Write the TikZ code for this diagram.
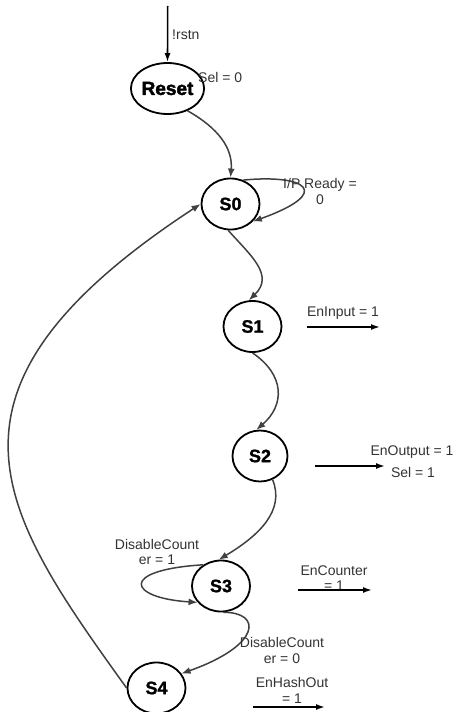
\documentclass[tikz,border=0pt]{standalone}
\usepackage{fontspec}
\setmainfont{Liberation Sans}
\newfontfamily\statefont[FakeBold=1.2]{Liberation Sans Bold}
\newfontfamily\resetfont[FakeBold=2.2]{Liberation Sans Bold}
\usetikzlibrary{shapes.geometric,arrows.meta}
\begin{document}
\begin{tikzpicture}[x=1pt,y=-1pt,
  state/.style={ellipse,draw=black,line width=1.8pt,minimum width=58pt,minimum height=51pt,inner sep=0pt,font=\fontsize{18}{18}\statefont},
  trans/.style={draw=black!75,line width=1.5pt,-{Latex[length=9pt,width=7pt]}},
  outarrow/.style={draw=black,line width=1.6pt,-{Latex[length=9pt,width=6pt]}},
  lbl/.style={font=\fontsize{14}{15.5}\selectfont,text=black!80,align=center,inner sep=0pt}]
\useasboundingbox (0,0) rectangle (456,712);

% states
\node[state,font=\fontsize{19}{19}\resetfont] (reset) at (167.5,88.5) {Reset};
\node[state] (s0) at (230.5,204) {S0};
\node[state] (s1) at (252.5,326.5) {S1};
\node[state,minimum width=55pt] (s2) at (260,456) {S2};
\node[state] (s3) at (221,586) {S3};
\node[state] (s4) at (156.5,688) {S4};

% reset input
\coordinate (rstin) at (167.7,6);
\draw[draw=black,line width=1.6pt,-{Latex[length=9pt,width=6pt]}] (rstin) -- (reset.north);
\node[lbl,anchor=west] (rstn) at (172,34.5) {!rstn};
\node[lbl,anchor=west] (sel0) at (198,77.5) {Sel = 0};

% transitions
\draw[trans] (reset.-48) .. controls (218,128) and (233,148) .. (s0.north);
\draw[trans] (s0.62) .. controls (305,174) and (335,192) .. (s0.-38);
\node[lbl] (ipready) at (320,191.5) {I/P Ready =\\0};
\draw[trans] (s0.-95) .. controls (250,255) and (275,275) .. (s1.98);
\draw[trans] (s1.-90) .. controls (285,375) and (285,405) .. (s2.98);
\draw[trans] (s2.-62) .. controls (285,510) and (260,535) .. (s3.95);
\draw[trans] (s3.130) .. controls (118,570) and (128,598) .. (s3.-145);
\node[lbl] (dc1) at (157,552) {DisableCount\\er = 1};
\draw[trans] (s3.-85) .. controls (262,612) and (262,645) .. (s4.30);
\node[lbl] (dc0) at (282,650.5) {DisableCount\\er = 0};
\draw[trans] (s4.west) .. controls (-0.3,511.3) and (-84.6,390.6) .. (s0.west);

% outputs
\node[lbl] (eninput) at (343,313) {EnInput = 1};
\coordinate (o1a) at (307,327); \coordinate (o1b) at (380,327);
\draw[outarrow] (o1a) -- (o1b);

\node[lbl] (enoutput) at (412,452) {EnOutput = 1};
\node[lbl] (sel1) at (413,472) {Sel = 1};
\coordinate (o2a) at (315,466); \coordinate (o2b) at (385,466);
\draw[outarrow] (o2a) -- (o2b);

\node[lbl] (encounter) at (334,578) {EnCounter\\= 1};
\coordinate (o3a) at (298,590); \coordinate (o3b) at (372,590);
\draw[outarrow] (o3a) -- (o3b);

\node[lbl] (enhash) at (292,690.5) {EnHashOut\\= 1};
\coordinate (o4a) at (253,707); \coordinate (o4b) at (325,707);
\draw[outarrow] (o4a) -- (o4b);
\end{tikzpicture}
\end{document}
